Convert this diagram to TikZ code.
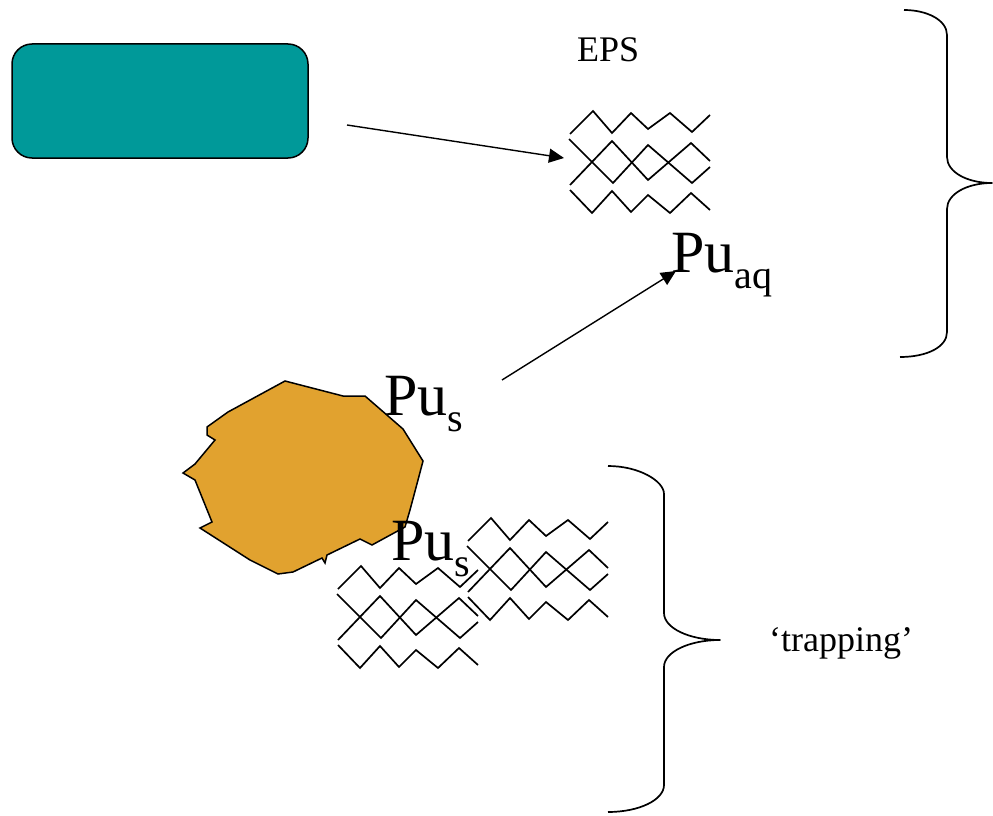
\documentclass[tikz,border=0pt]{standalone}
\usepackage{fontspec}
\setmainfont{Liberation Serif}
\usetikzlibrary{arrows.meta}

\definecolor{tealbox}{RGB}{0,153,153}
\definecolor{particle}{RGB}{225,162,47}

\tikzset{
  ink/.style={line width=1.7pt, line join=miter},
  feed/.style={line width=1.4pt, -{Triangle[length=15pt,width=14pt]}},
  label24/.style={inner sep=0pt, anchor=base west, font=\fontsize{36}{42}\selectfont},
  species/.style={inner sep=0pt, anchor=base west, font=\fontsize{60}{66}\selectfont},
  % a patch of polymer strands: a small zigzag, two crossing large ones, a small one
  epsmat/.pic={
    \draw[ink] (0,23) -- (23,0) -- (42,22) -- (61,2) -- (78,18) -- (100,2) -- (122,21) -- (140,4);
    \draw[ink] (-1,28) -- (43,72) -- (78,34) -- (122,72) -- (140,56);
    \draw[ink] (0,74) -- (42,30) -- (78,69) -- (121,32) -- (140,50);
    \draw[ink] (0,79) -- (22,102) -- (42,80) -- (61,101) -- (78,84) -- (100,102) -- (121,82) -- (140,99);
  }
}
\newcommand{\subtxt}[1]{\raisebox{-16pt}{\fontsize{40}{44}\selectfont #1}}

\begin{document}
\begin{tikzpicture}[x=1pt,y=-1pt]
\useasboundingbox (0,0) rectangle (993,816);

% source box
\node[draw=black, line width=1.5pt, fill=tealbox, rounded corners=20pt,
      minimum width=296pt, minimum height=114pt, inner sep=0pt] (src) at (160,101) {};

% solid particle
\filldraw[fill=particle, draw=black, line width=1.5pt, line join=miter]
  (285,381) -- (343,396) -- (365,396) -- (403,429) -- (423,461) -- (418,480)
  -- (410,510) -- (405,527) -- (372,545) -- (360,539) -- (327,555) -- (325,563)
  -- (322,558) -- (293,572) -- (278,574) -- (250,560) -- (200,528) -- (212,522)
  -- (195,480) -- (183,473) -- (195,464) -- (215,440) -- (207,435) -- (207,427)
  -- (228,412) -- cycle;

% polymer patches
\pic at (570,111) {epsmat};
\pic at (338,566) {epsmat};
\pic at (468,518) {epsmat};

% labels
\node[label24] (eps) at (577,62) {EPS};
\node[label24] (trap) at (769,651) {‘trapping’};
\node[species] (puaq) at (671,272) {Pu\subtxt{aq}};
\node[species] (pus1) at (384,415) {Pu\subtxt{s}};
\node[species] (pus2) at (391,560) {Pu\subtxt{s}};

% arrows
\coordinate (a1s) at (347,125);
\coordinate (a1e) at (564,158);
\coordinate (a2s) at (502,380);
\coordinate (a2e) at (676,271);
\draw[feed] (a1s) -- (a1e);
\draw[feed] (a2s) -- (a2e);

% right brace, top group
\draw[ink, line join=round]
  (904,10) .. controls (927,10) and (947,20) .. (947,35)
  -- (947,157) .. controls (947,172) and (967,183) .. (992,183)
  .. controls (967,183) and (947,194) .. (947,209)
  -- (947,332) .. controls (947,347) and (927,357) .. (900,357);

% right brace, trapping group
\draw[ink, line join=round]
  (608,466) .. controls (639,466) and (664,481) .. (664,494)
  -- (664,613) .. controls (664,628) and (689,640) .. (720,640)
  .. controls (689,640) and (664,652) .. (664,667)
  -- (664,785) .. controls (664,800) and (639,812) .. (608,812);
\end{tikzpicture}
\end{document}
